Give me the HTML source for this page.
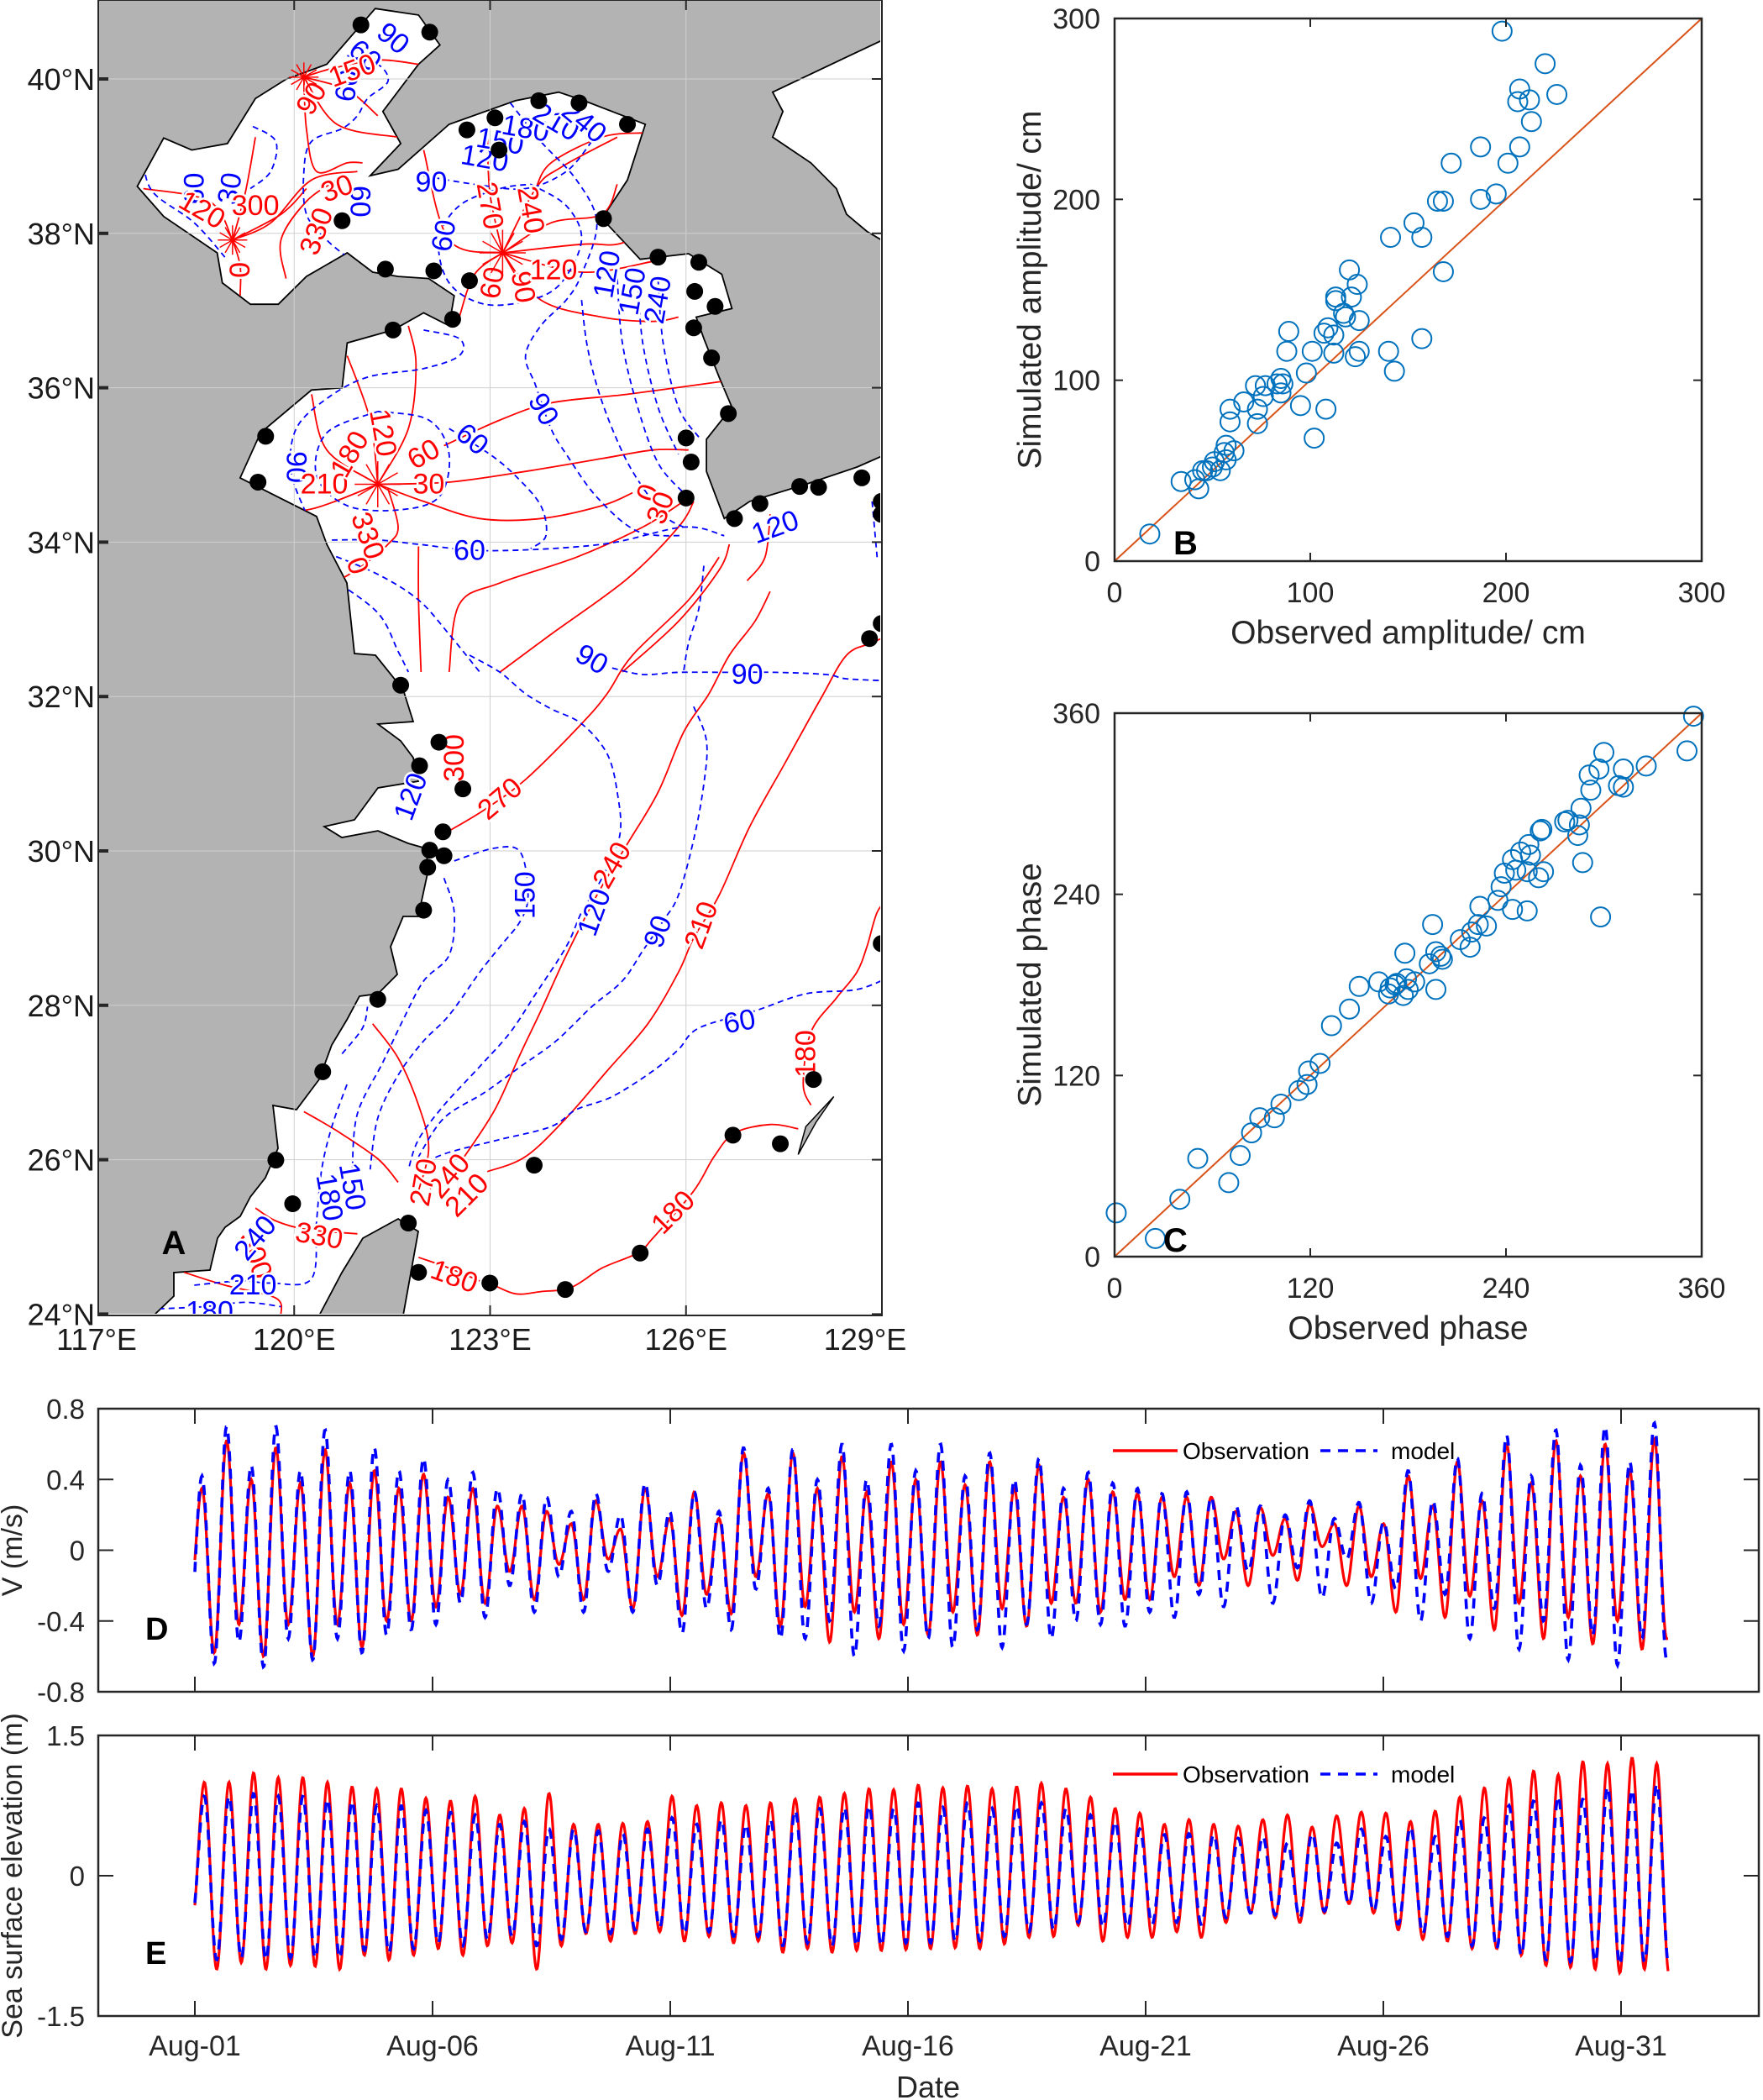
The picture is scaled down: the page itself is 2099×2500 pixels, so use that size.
<!DOCTYPE html>
<html><head><meta charset="utf-8"><title>Tidal chart recreation</title>
<style>
html,body{margin:0;padding:0;background:#fff;}
svg{display:block;font-family:"Liberation Sans",Arial,sans-serif;}
</style></head>
<body>
<svg id="fig" width="2099" height="2500" viewBox="0 0 2099 2500" xmlns="http://www.w3.org/2000/svg">
<defs>
<clipPath id="mapclip"><rect x="117" y="0" width="931" height="1564"/></clipPath>
<clipPath id="seaclip"><path id="seaclipPath"/></clipPath>
<clipPath id="dclip"><rect x="117" y="1677" width="1977" height="337"/></clipPath>
<clipPath id="eclip"><rect x="117" y="2067" width="1977" height="333"/></clipPath>
</defs>
<g id="mapG"></g>
<g id="bG"></g>
<g id="cG"></g>
<g id="dG"></g>
<g id="eG"></g>
</svg>
<script>
// ===== Panel B data (observed vs simulated amplitude, cm) =====
const ampObs = [18,34,41,43,45,47,50,51,54,56,57,57,59,59,61,66,72,73,73,76,77,83,85,85,86,88,89,95,98,101,102,108,107,109,112,113,113,112,117,118,120,121,124,125,123,125,140,141,143,153,157,157,165,168,168,172,187,187,195,198,201,207,207,206,212,213,220,226];
const ampSim = [15,44,45,40,50,50,52,55,50,60,64,56,77,84,61,88,97,84,76,91,97,98,101,93,98,116,127,86,104,116,68,84,126,129,125,146,144,115,137,135,161,146,153,133,113,116,116,179,105,187,179,123,199,199,160,220,229,200,203,293,220,229,261,254,255,243,275,258];
const ampTicks = [0,100,200,300];
// ===== Panel C data (phase, deg) =====
const phaObs = [1,25,40,51,70,77,84,89,98,102,113,118,119,126,133,144,150,162,168,169,172,173,177,179,180,184,178,195,197,193,197,200,201,212,218,219,223,228,224,235,237,244,253,239,244,246,249,254,255,253,260,263,261,262,276,278,284,285,287,286,292,291,297,300,298,309,312,312,326,351,355];
const phaSim = [29,12,38,65,49,67,82,92,92,101,110,114,123,128,153,164,179,182,174,178,180,181,173,184,177,182,201,220,177,194,202,199,197,210,205,215,220,219,232,236,245,230,229,254,263,256,268,273,266,255,251,255,282,283,288,289,279,286,261,297,309,319,323,334,225,312,323,311,325,335,358];
const phaTicks = [0,120,240,360];
// ===== Panel D data: current velocity extrema (m/s) =====
const dObsHigh = [0.35,0.62,0.4,0.58,0.38,0.57,0.38,0.45,0.35,0.43, 0.3,0.35,0.25,0.25,0.22,0.15,0.28,0.12,0.35,0.18, 0.33,0.18,0.55,0.32, 0.55,0.35,0.53,0.33,0.5,0.4,0.5,0.37,0.5,0.35,0.48,0.3,0.4,0.33,0.32,0.3,0.3,0.3,0.22,0.24,0.18,0.26,0.15,0.25,0.15,0.42,0.25,0.5,0.28,0.6,0.38,0.62,0.42,0.6,0.45,0.63];
const dObsLow = [-0.3, -0.58,-0.42,-0.6,-0.42,-0.6,-0.42,-0.55,-0.4,-0.4,-0.32,-0.25,-0.3,-0.12,-0.28,-0.08,-0.28,-0.05,-0.33,-0.15,-0.37,-0.25,-0.36,-0.15, -0.43,-0.32,-0.52,-0.35,-0.5,-0.42,-0.48,-0.35,-0.48,-0.33,-0.43,-0.3,-0.3,-0.35,-0.28,-0.28,-0.15,-0.2,-0.05,-0.2,-0.03,-0.17,0.02,-0.2,-0.15,-0.35,-0.16,-0.38,-0.26,-0.45,-0.3,-0.5,-0.38,-0.53,-0.4,-0.56, -0.5];
const dModHigh = [0.42,0.7,0.48,0.7,0.45,0.68,0.45,0.58,0.45,0.52, 0.4,0.44,0.35,0.32,0.3,0.22,0.32,0.2,0.38,0.22, 0.33,0.22,0.58,0.35, 0.57,0.4,0.6,0.4,0.6,0.45,0.6,0.42,0.55,0.4,0.52,0.35,0.44,0.38,0.35,0.32,0.33,0.3,0.25,0.25,0.2,0.28,0.18,0.27,0.16,0.45,0.28,0.52,0.32,0.65,0.42,0.68,0.48,0.7,0.5,0.72];
const dModLow = [-0.45,-0.64,-0.52,-0.66,-0.5,-0.62,-0.5,-0.58,-0.48,-0.45,-0.42,-0.3,-0.38,-0.2,-0.35,-0.15,-0.35,-0.12,-0.35,-0.2,-0.47,-0.33,-0.45,-0.22,-0.5,-0.5,-0.4,-0.6,-0.43,-0.57,-0.5,-0.55,-0.45,-0.55,-0.42,-0.5,-0.4,-0.42,-0.43,-0.35,-0.38,-0.25,-0.32,-0.12,-0.3,-0.1,-0.27,-0.05,-0.3,-0.22,-0.4,-0.25,-0.5,-0.33,-0.56,-0.4,-0.62,-0.48,-0.65,-0.5,-0.62];
const dTicks = [0.8,0.4,0,-0.4,-0.8];
const dTickLabels = ["0.8","0.4","0","-0.4","-0.8"];
// ===== Panel E data: sea surface elevation extrema (m) =====
const eObsHigh = [1.0,1.0,1.1,1.05,1.05,1.0,0.95,0.93,0.93,0.83,0.8,0.85,0.65,0.72,0.88,0.55,0.55,0.56,0.58,0.85,0.75,0.78,0.75, 0.78,0.82,0.84,0.88,0.93,0.92,0.97,0.94,0.96,0.93,0.95,0.99,0.93,0.84,0.72,0.67,0.55,0.6,0.55,0.53,0.6,0.65,0.52,0.64,0.68,0.67,0.58,0.69,0.84,0.94,1.04,1.12,1.08,1.22,1.2,1.26,1.2];
const eObsLow = [-0.5, -1.0,-0.93,-1.0,-0.96,-0.97,-1.0,-0.85,-0.9,-0.85,-0.78,-0.85,-0.75,-0.72,-1.0,-0.75,-0.62,-0.7,-0.62,-0.6,-0.7,-0.65,-0.72,-0.7, -0.82,-0.78,-0.82,-0.8,-0.8,-0.79,-0.78,-0.77,-0.78,-0.73,-0.66,-0.65,-0.53,-0.7,-0.66,-0.66,-0.6,-0.66,-0.5,-0.4,-0.45,-0.5,-0.4,-0.3,-0.4,-0.58,-0.68,-0.7,-0.78,-0.78,-0.85,-0.96,-0.98,-1.0,-1.04,-1.0,-1.05];
const eModHigh = [0.85,0.85,0.88,0.85,0.85,0.82,0.8,0.75,0.75,0.7,0.68,0.65,0.55,0.58,0.5,0.5,0.48,0.45,0.5,0.62,0.55,0.6,0.55, 0.6,0.7,0.72,0.73,0.75,0.72,0.78,0.73,0.78,0.72,0.75,0.78,0.72,0.65,0.58,0.5,0.44,0.45,0.44,0.4,0.42,0.35,0.45,0.35,0.5,0.42,0.52,0.42,0.6,0.62,0.75,0.8,0.85,0.82,0.95,0.92,0.98];
const eModLow = [-0.45,-0.9,-0.88,-0.9,-0.88,-0.88,-0.88,-0.8,-0.82,-0.78,-0.72,-0.75,-0.68,-0.65,-0.75,-0.68,-0.6,-0.62,-0.58,-0.55,-0.62,-0.6,-0.65,-0.65, -0.75,-0.72,-0.75,-0.75,-0.75,-0.72,-0.72,-0.7,-0.7,-0.65,-0.6,-0.58,-0.5,-0.55,-0.55,-0.52,-0.5,-0.52,-0.45,-0.4,-0.42,-0.45,-0.38,-0.3,-0.38,-0.52,-0.62,-0.65,-0.75,-0.78,-0.85,-0.9,-0.92,-0.92,-0.95,-0.92,-0.98];
const eTicks = [1.5,0,-1.5];
const eTickLabels = ["1.5","0","-1.5"];
const dateTicks = [0,5,10,15,20,25,30];
const dateLabels = ["Aug-01","Aug-06","Aug-11","Aug-16","Aug-21","Aug-26","Aug-31"];
const lonTicks = [117,120,123,126,129];
const latTicks = [24,26,28,30,32,34,36,38,40];

const NS='http://www.w3.org/2000/svg';
function mk(tag, attrs, parent, txt){
  const e=document.createElementNS(NS,tag);
  for(const k in attrs) e.setAttribute(k,attrs[k]);
  if(txt!==undefined) e.textContent=txt;
  parent.appendChild(e); return e;
}
function pathD(pts){return pts.map((p,i)=>(i?'L':'M')+p[0].toFixed(1)+' '+p[1].toFixed(1)).join(' ');}
function smoothD(pts){
  if(pts.length<3) return pathD(pts);
  let d='M'+pts[0][0].toFixed(1)+' '+pts[0][1].toFixed(1);
  for(let i=0;i<pts.length-1;i++){
    const p0=pts[Math.max(0,i-1)],p1=pts[i],p2=pts[i+1],p3=pts[Math.min(pts.length-1,i+2)];
    const c1=[p1[0]+(p2[0]-p0[0])/6,p1[1]+(p2[1]-p0[1])/6];
    const c2=[p2[0]-(p3[0]-p1[0])/6,p2[1]-(p3[1]-p1[1])/6];
    d+=' C'+c1[0].toFixed(1)+' '+c1[1].toFixed(1)+' '+c2[0].toFixed(1)+' '+c2[1].toFixed(1)+' '+p2[0].toFixed(1)+' '+p2[1].toFixed(1);
  }
  return d;
}

// ================= MAP (panel A) =================
const mapG=document.getElementById('mapG');
const z10=(x,y)=>[110+x*0.6067, y*0.5102];
const z11=(x,y)=>[110+x*0.6067, 780+y*0.5102];
const lonX=lon=>117+(lon-117)*77.75;
const latY=lat=>94+(40-lat)*91.9;

const seaMain = [
 z10(555,20),z10(640,35),z10(682,105),z10(640,150),z10(570,260),z10(605,335),z10(545,410),z10(600,395),z10(700,290),z10(830,235),z10(915,215),z10(965,235),z10(1085,290),z10(1050,420),z10(1000,510),z10(1075,605),z10(1170,592),z10(1235,640),z10(1255,720),z10(1185,740),z10(1200,790),z10(1230,880),z10(1255,950),z10(1205,1025),z10(1205,1100),z10(1240,1210),z10(1290,1170),z10(1400,1130),z10(1500,1090),[1050,543],[1050,1566],
 [480,1566],[498,1466],[474,1451],[432,1474],[407,1515],[380,1566],
 [183,1566],[207,1543],[207,1515],[250,1512],[259,1474],[268,1461],[286,1448],[298,1425],[316,1402],[331,1367],[325,1316],[353,1321],[380,1285],[395,1244],[413,1214],[428,1186],[450,1183],[473,1160],[465,1127],[480,1091],[498,1091],[510,1035],[507,1010],[486,1004],[450,989],[407,997],[386,984],[422,976],[450,938],[498,930],[492,902],[477,882],[450,862],[492,859],[480,821],[447,780],[422,778],[413,694],
 z10(460,1270),z10(440,1205),z10(290,1115),z10(330,1010),z10(430,910),z10(490,905),z10(500,800),z10(590,770),z10(650,730),z10(700,760),z10(710,690),z10(660,650),z10(600,645),z10(550,635),z10(500,590),z10(420,645),z10(365,710),z10(310,710),z10(255,660),z10(245,590),z10(140,505),z10(88,435),z10(140,322),z10(195,350),z10(265,335),z10(320,230),z10(380,185),z10(460,150)
];
const seaJapan = [[1050,48],z10(1335,215),z10(1355,260),z10(1335,320),z10(1410,380),z10(1460,440),z10(1480,500),z10(1520,540),[1050,286]];
const okinawa=[z11(1455,1030),z11(1400,1100),z11(1385,1165),z11(1420,1090)];

document.getElementById('seaclipPath').setAttribute('d',pathD(seaMain)+'Z '+pathD(seaJapan)+'Z');

const mapInner=mk('g',{'clip-path':'url(#mapclip)'},mapG);
const land=mk('rect',{x:117,y:0,width:933,height:1566,fill:'#b3b3b3'},mapInner);


const sea1=mk('path',{d:pathD(seaMain)+'Z',fill:'#fff',stroke:'#000','stroke-width':1.8},mapInner);


const sea2=mk('path',{d:pathD(seaJapan)+'Z',fill:'#fff',stroke:'#000','stroke-width':1.8},mapInner);



const grid=mk('g',{stroke:'#cfcfcf','stroke-width':1},mapInner);


lonTicks.forEach(l=>mk('line',{x1:lonX(l),y1:0,x2:lonX(l),y2:1566},grid));
latTicks.forEach(l=>mk('line',{x1:117,y1:latY(l),x2:1050,y2:latY(l)},grid));

const cont=mk('g',{'clip-path':'url(#seaclip)',fill:'none'},mapInner);


const redLines=[
 [z11(700,410),z11(770,360),z11(850,290),z11(960,160),z11(1010,90),z11(1060,0),z10(1170,1400),z10(1230,1300)],
 [z11(730,1170),z11(790,1060),z11(840,930),z11(880,830),z11(930,700),z11(990,560),z11(1050,440),z11(1110,320),z11(1160,180),z11(1210,90),z11(1250,0),z10(1300,1450),z10(1330,1380)],
 [z11(775,1205),z11(850,1170),z11(930,1080),z11(1010,970),z11(1090,860),z11(1150,740),z11(1180,660),z11(1230,560),z11(1290,400),z11(1360,250),z11(1430,100),z11(1480,0),z10(1530,1500),z10(1566,1480)],
 [z11(1410,1050),z11(1395,1000),z11(1410,880),z11(1460,800),z11(1500,740),z11(1520,680),z11(1540,600),z11(1566,560)],
 [z11(780,1465),z11(830,1490),z11(880,1485),z11(940,1475),z11(1000,1430),z11(1070,1395),z11(1100,1360),z11(1180,1250),z11(1220,1170),z11(1260,1115),z11(1330,1095),z11(1385,1105)],
 [z11(550,860),z11(600,940),z11(640,1050),z11(660,1150),z11(640,1250)],
 [z11(415,1065),z11(480,1110),z11(560,1175),z11(600,1230)],
 [z11(640,1405),z11(700,1430),z11(760,1460)],
 [z11(180,1440),z11(260,1470),z11(360,1500),z11(370,1540)],
 [z11(320,1290),z11(360,1320),z11(420,1340),z11(520,1350)],
 [z10(560,1130),z10(650,1170),z10(760,1210),z10(880,1210),z10(1000,1180),z10(1060,1150)],
 [z10(560,1130),z10(700,1125),z10(850,1100),z10(1000,1070),z10(1100,1050),z10(1170,1050)],
 [z10(690,1040),z10(800,980),z10(900,940),z10(1050,920),z10(1235,890)],
 [z10(560,1130),z10(620,1000),z10(635,850),z10(620,760)],
 [z10(560,1130),z10(545,980),z10(500,830)],
 [z10(560,1130),z10(460,1050),z10(430,920)],
 [z10(560,1130),z10(420,1190),z10(360,1160)],
 [z10(580,1140),z10(600,1230),z10(580,1270),z10(530,1320),z10(490,1350)],
 [z10(640,1275),z10(640,1400),z10(645,1568)],
 [z10(700,1568),z10(720,1410),z10(800,1360),z10(950,1300),z10(1080,1230),z10(1160,1170)],
 [z10(800,1568),z10(900,1480),z10(1050,1350),z10(1150,1230),z10(1180,1170)],
 [z10(1040,1568),z10(1150,1450),z10(1230,1330),z10(1250,1270)],
 [z10(1285,1355),z10(1320,1300),z10(1330,1200)],
 [z10(805,590),z10(870,440),z10(920,390),z10(1030,320)],
 [z10(805,590),z10(900,520),z10(1000,500),z10(1030,430)],
 [z10(805,590),z10(960,570),z10(1030,570),z10(1090,540)],
 [z10(805,590),z10(960,635),z10(1100,610)],
 [z10(805,590),z10(880,700),z10(1000,740),z10(1100,750),z10(1150,740)],
 [z10(805,590),z10(780,450),z10(775,300)],
 [z10(805,590),z10(700,560),z10(650,350)],
 [z10(805,590),z10(750,640),z10(720,740)],
 [z10(415,180),z10(470,160),z10(560,140),z10(640,150)],
 [z10(415,180),z10(500,210),z10(560,270)],
 [z10(415,180),z10(480,290),z10(600,320)],
 [z10(415,180),z10(420,300),z10(440,400),z10(500,380),z10(530,380)],
 [z10(275,560),z10(300,450),z10(320,320)],
 [z10(275,560),z10(230,470),z10(100,440)],
 [z10(275,560),z10(350,520),z10(430,420),z10(520,400)],
 [z10(275,560),z10(290,620),z10(290,690)],
 [z10(275,560),z10(370,500),z10(420,440)],
 [z10(380,650),z10(370,560),z10(420,470),z10(480,420)],
 [z10(870,440),z10(900,380),z10(1000,320),z10(1080,310)]
];
const blueLines=[
 [z11(1020,30),z11(1080,45),z11(1150,40),z11(1250,40),z11(1340,40),z11(1440,45),z11(1480,55),z11(1566,60)],
 [z11(740,0),z11(800,40),z11(850,90),z11(900,125),z11(960,160),z11(1010,230),z11(1030,320),z11(1035,420),z11(1000,520),z11(960,600),z11(930,680),z11(870,790),z11(820,880),z11(760,960),z11(690,1050),z11(640,1130),z11(620,1200)],
 [z11(710,480),z11(790,450),z11(840,460),z11(855,560),z11(840,620),z11(800,680),z11(760,740),z11(700,840),z11(650,900),z11(600,980),z11(560,1080),z11(545,1200)],
 [z11(1180,120),z11(1205,200),z11(1200,300),z11(1180,430),z11(1150,560),z11(1120,620),z11(1080,690),z11(1040,760),z11(980,820),z11(910,900),z11(840,960),z11(770,1020),z11(690,1080),z11(640,1170)],
 [z11(1566,750),z11(1500,780),z11(1400,790),z11(1300,830),z11(1190,870),z11(1150,920),z11(1100,970),z11(1020,1030),z11(950,1060),z11(900,1100),z11(800,1130),z11(700,1160),z11(650,1185)],
 [z11(690,520),z11(710,600),z11(700,700),z11(650,760),z11(610,850),z11(570,950),z11(520,1070),z11(510,1200)],
 [z11(130,1525),z11(220,1520),z11(300,1510),z11(370,1520)],
 [z11(200,1470),z11(290,1460),z11(350,1465),z11(430,1455),z11(440,1320),z11(450,1200),z11(470,1100),z11(500,1000)],
 [z11(490,930),z11(530,870),z11(540,820)],
 [z10(650,410),z10(750,430),z10(850,440),z10(930,400),z10(980,330)],
 [z10(820,240),z10(880,330),z10(950,420),z10(990,520),z10(960,640),z10(930,700),z10(880,760),z10(850,830),z10(870,900),z10(900,1000),z10(930,1060),z10(990,1160),z10(1070,1240),z10(1160,1250)],
 [z10(960,700),z10(970,800),z10(990,900),z10(1020,1000),z10(1060,1100),z10(1120,1200),z10(1160,1230)],
 [z10(1030,650),z10(1040,800),z10(1070,950),z10(1110,1080),z10(1160,1150)],
 [z10(1070,650),z10(1080,800),z10(1110,950),z10(1150,1060)],
 [z10(1110,650),z10(1120,800),z10(1150,950),z10(1190,1020)],
 [z10(860,430),z10(930,480),z10(960,560),z10(920,660),z10(860,700),z10(770,710),z10(700,660),z10(680,560),z10(720,480),z10(800,440),z10(860,430)],
 [z10(560,960),z10(660,980),z10(700,1060),z10(680,1160),z10(600,1190),z10(500,1180),z10(440,1110),z10(460,1010),z10(560,960)],
 [z10(700,1000),z10(780,1060),z10(830,1110),z10(880,1180),z10(890,1250),z10(860,1280)],
 [z10(650,770),z10(720,790),z10(720,830),z10(650,860),z10(540,880),z10(460,930),z10(400,1000),z10(390,1100),z10(420,1200)],
 [z10(470,1260),z10(560,1260),z10(640,1270),z10(780,1285),z10(1000,1270),z10(1160,1230),z10(1240,1250)],
 [z10(460,1290),z10(560,1340),z10(640,1400),z10(700,1480),z10(760,1568)],
 [z10(470,1350),z10(560,1430),z10(600,1520),z10(620,1568)],
 [z10(500,130),z10(560,150),z10(580,190),z10(540,230),z10(520,270),z10(490,300),z10(430,330),z10(415,400),z10(420,500),z10(460,560),z10(500,600)],
 [z10(100,385),z10(120,450),z10(200,520),z10(260,600)],
 [z10(315,295),z10(360,330),z10(350,400),z10(310,440)],
 [z10(1200,1320),z10(1190,1420),z10(1170,1500),z10(1160,1568)],
 [z10(1530,1170),z10(1540,1300)]
];
redLines.forEach(l=>mk('path',{d:smoothD(l),stroke:'#ff0000','stroke-width':1.8},cont));
blueLines.forEach(l=>mk('path',{d:smoothD(l),stroke:'#0000ff','stroke-width':1.8,'stroke-dasharray':'7 5'},cont));

const lblG=mk('g',{'font-size':34},mapInner);


const labels=[
 ['r',z11(800,335),'270',-40],['r',z11(1020,490),'240',-60],['r',z11(1195,630),'210',-70],['r',z11(1400,930),'180',-90],
 ['r',z11(1140,1300),'180',-45],['r',z11(710,1450),'180',20],['r',z11(445,1355),'330',10],['r',z11(710,240),'300',-90],
 ['r',z11(735,1260),'210',-45],['r',z11(700,1215),'240',-50],['r',z11(320,1400),'300',70],['r',z11(650,1230),'270',-80],
 ['b',z11(1285,45),'90',0],['b',z11(850,560),'150',-90],['b',z11(985,600),'120',-70],['b',z11(1110,645),'90',-70],
 ['b',z11(1270,855),'60',-10],['b',z11(315,1470),'210',0],['b',z11(230,1532),'180',0],['b',z11(465,1265),'180',80],
 ['b',z11(510,1240),'150',80],['b',z11(625,330),'120',-70],['b',z11(320,1360),'240',-50],['b',z11(980,10),'90',30],
 ['b',z10(665,425),'90',0],['b',z10(770,370),'120',10],['b',z10(800,330),'150',10],['b',z10(850,300),'180',10],['b',z10(910,285),'210',30],
 ['b',z10(965,285),'240',40],['b',z10(745,1025),'60',40],['b',z10(885,955),'90',60],['b',z10(740,1285),'60',0],
 ['b',z10(1340,1230),'120',-20],['b',z10(590,90),'90',40],['b',z10(535,130),'60',40],['b',z10(200,440),'60',-90],
 ['b',z10(400,1090),'90',90],['b',z10(525,470),'60',90],['b',z10(690,550),'60',-80],['b',z10(500,200),'60',-80],['b',z10(270,440),'30',-80],
 ['b',z10(1010,640),'120',-80],['b',z10(1060,680),'150',-80],['b',z10(1110,700),'240',-80],
 ['r',z10(480,440),'30',-20],['r',z10(440,540),'330',-70],['r',z10(290,630),'0',-90],['r',z10(215,490),'120',30],
 ['r',z10(510,165),'150',-20],['r',z10(660,1130),'30',0],['r',z10(650,1060),'60',-30],['r',z10(570,1010),'120',80],
 ['r',z10(455,1130),'210',0],['r',z10(1090,1150),'0',-70],['r',z10(1115,1185),'30',-70],['r',z10(780,480),'270',80],
 ['r',z10(860,490),'240',80],['r',z10(845,670),'90',80],['r',z10(785,660),'60',-80],['r',z10(905,630),'120',0],
 ['r',z10(540,1250),'330',70],['r',z10(520,1320),'0',70],['r',z10(430,230),'90',-60],['r',z10(320,480),'300',0],['r',z10(505,1060),'180',-60]
];
labels.forEach(l=>{
  const [c,p,t,r]=l;
  const e=mk('text',{x:p[0],y:p[1],fill:c==='r'?'#ff0000':'#0000ff','text-anchor':'middle','dominant-baseline':'central',transform:'rotate('+r+' '+p[0].toFixed(1)+' '+p[1].toFixed(1)+')',stroke:'#fff','stroke-width':5,'paint-order':'stroke'},lblG,t);
  
  
});
[[z10(805,590),55],[z10(560,1130),55],[z10(415,180),35],[z10(275,560),35]].forEach(s=>{
  const g=mk('g',{stroke:'#ff0000','stroke-width':1.5},mapInner);
  
  
  for(let a=0;a<12;a++){const th=a*Math.PI/6;mk('line',{x1:s[0][0],y1:s[0][1],x2:s[0][0]+Math.cos(th)*s[1]*0.5,y2:s[0][1]+Math.sin(th)*s[1]*0.5},g);}
});
const ok=mk('path',{d:pathD(okinawa)+'Z',fill:'#b3b3b3',stroke:'#000','stroke-width':1.5},mapInner);



const stations10=[[527,58],[662,75],[876,235],[955,240],[790,275],[735,303],[1050,290],[798,350],[490,515],[1003,510],[575,628],[670,632],[740,655],[707,745],[590,770],[1110,600],[1190,612],[1182,680],[1222,715],[1180,765],[1215,835],[1248,965],[1165,1022],[1175,1078],[1165,1162],[340,1018],[325,1125],[1260,1210],[1310,1175],[1388,1135],[1425,1137],[1510,1115],[1548,1170],[1548,1200],[1548,1455],[1525,1490]];
const stations11=[[605,70],[680,203],[642,258],[727,312],[688,412],[662,455],[690,468],[658,495],[650,595],[560,803],[452,972],[360,1178],[393,1280],[620,1325],[640,1440],[780,1465],[928,1480],[867,1190],[1075,1395],[1257,1120],[1350,1140],[1415,990],[1548,673]];
const stG=mk('g',{fill:'#000'},mapInner);


stations10.map(p=>z10(p[0],p[1])).concat(stations11.map(p=>z11(p[0],p[1]))).forEach(p=>{
  const c=mk('circle',{cx:p[0],cy:p[1],r:10},stG);
  
  
});
const mf=mk('rect',{x:117,y:0,width:933,height:1566,fill:'none',stroke:'#262626','stroke-width':2},mapG);


lonTicks.forEach(l=>{
  const x=lonX(l);
  mk('line',{x1:x,y1:0,x2:x,y2:12,stroke:'#262626','stroke-width':2},mapG);
  mk('line',{x1:x,y1:1566,x2:x,y2:1554,stroke:'#262626','stroke-width':2},mapG);
  const t=mk('text',{x:l===117?115:(l===129?1030:x),y:1607,'font-size':36,'text-anchor':'middle',fill:'#1a1a1a'},mapG,l+'°E');
  
  
});
latTicks.forEach(l=>{
  const y=latY(l);
  mk('line',{x1:117,y1:y,x2:129,y2:y,stroke:'#262626','stroke-width':4},mapG);
  mk('line',{x1:1050,y1:y,x2:1038,y2:y,stroke:'#262626','stroke-width':2},mapG);
  const t=mk('text',{x:113,y:y+13,'font-size':36,'text-anchor':'end',fill:'#1a1a1a'},mapG,l+'°N');
  
  
});
const la=mk('text',{x:207,y:1493,'font-size':40,'font-weight':'bold','text-anchor':'middle',fill:'#000'},mapG,'A');



// ================= SCATTER PANELS =================
function scatter(g, X0,Y0,W,H, vmax, xs, ys, ticks, xTitle, yTitle, letter, letterPos){
  const sx=v=>X0+v/vmax*W, sy=v=>Y0+H-v/vmax*H;
  mk('rect',{x:X0,y:Y0,width:W,height:H,fill:'#fff'},g);
  const diag=mk('line',{x1:sx(0),y1:sy(0),x2:sx(vmax),y2:sy(vmax),stroke:'#d95319','stroke-width':2},g);
  
  
  const n=Math.min(xs.length,ys.length);
  for(let i=0;i<n;i++){
    const c=mk('circle',{cx:sx(xs[i]),cy:sy(ys[i]),r:11.5,fill:'none',stroke:'#0072bd','stroke-width':2},g);
    
    
  }
  const fr=mk('rect',{x:X0,y:Y0,width:W,height:H,fill:'none',stroke:'#262626','stroke-width':2.5},g);
  
  
  ticks.forEach(t=>{
    const x=sx(t),y=sy(t);
    mk('line',{x1:x,y1:Y0+H,x2:x,y2:Y0+H-10,stroke:'#262626','stroke-width':2},g);
    mk('line',{x1:x,y1:Y0,x2:x,y2:Y0+10,stroke:'#262626','stroke-width':2},g);
    mk('line',{x1:X0,y1:y,x2:X0+10,y2:y,stroke:'#262626','stroke-width':2},g);
    mk('line',{x1:X0+W,y1:y,x2:X0+W-10,y2:y,stroke:'#262626','stroke-width':2},g);
    const xl=mk('text',{x:x,y:Y0+H+49,'font-size':34,'text-anchor':'middle',fill:'#262626'},g,String(t));
    
    
    const yl=mk('text',{x:X0-17,y:y+12,'font-size':34,'text-anchor':'end',fill:'#262626'},g,String(t));
    
    
  });
  const xt=mk('text',{x:X0+W/2,y:Y0+H+98,'font-size':39,'text-anchor':'middle',fill:'#262626'},g,xTitle);
  
  
  const yx=X0-88, yy=Y0+H/2;
  const yt=mk('text',{x:yx,y:yy,'font-size':39,'text-anchor':'middle',fill:'#262626',transform:'rotate(-90 '+yx+' '+yy+')'},g,yTitle);
  
  
  const lt=mk('text',{x:letterPos[0],y:letterPos[1],'font-size':40,'font-weight':'bold',fill:'#000'},g,letter);
  
  
}
scatter(document.getElementById('bG'),1327,22,699,646,300,ampObs,ampSim,ampTicks,'Observed amplitude/ cm','Simulated amplitude/ cm','B',[1397,660]);
scatter(document.getElementById('cG'),1327,849,699,647,360,phaObs,phaSim,phaTicks,'Observed phase','Simulated phase','C',[1385,1490]);

// ================= TIME SERIES =================
const P=0.5178;
function tideCurve(lows, highs, xs, ys, T0){
  const ext=[];
  const n=Math.min(highs.length, lows.length-1);
  for(let j=0;j<n;j++){ ext.push([T0+(j-0.5)*P, lows[j]]); ext.push([T0+j*P, highs[j]]); }
  ext.push([T0+(n-0.5)*P, lows[n]]);
  const pts=[]; let k=0;
  for(let t=0;t<=31.0001;t+=0.015){
    while(k<ext.length-2 && t>ext[k+1][0]) k++;
    const a=ext[k], b=ext[k+1];
    let f=(t-a[0])/(b[0]-a[0]); f=Math.max(0,Math.min(1,f));
    const v=a[1]+(b[1]-a[1])*(1-Math.cos(Math.PI*f))/2;
    pts.push([xs(t),ys(v)]);
  }
  return pathD(pts);
}
function tsPanel(g, Y0, H, vmin, vmax, ticks, tickLabels, obsLow, obsHigh, modLow, modHigh, yTitle, letter, clip, legendY, T0){
  const X0=117, W=1977;
  const xs=t=>232+t*56.6, ys=v=>Y0+(vmax-v)/(vmax-vmin)*H;
  const obs=mk('path',{d:tideCurve(obsLow,obsHigh,xs,ys,T0),fill:'none',stroke:'#ff0000','stroke-width':3.2,'clip-path':'url(#'+clip+')'},g);
  
  
  const mod=mk('path',{d:tideCurve(modLow,modHigh,xs,ys,T0),fill:'none',stroke:'#0000ff','stroke-width':3.6,'stroke-dasharray':'12 9','clip-path':'url(#'+clip+')'},g);
  
  
  const fr=mk('rect',{x:X0,y:Y0,width:W,height:H,fill:'none',stroke:'#262626','stroke-width':2.5},g);
  
  
  ticks.forEach((t,i)=>{
    const y=ys(t);
    mk('line',{x1:X0,y1:y,x2:X0+18,y2:y,stroke:'#262626','stroke-width':2},g);
    mk('line',{x1:X0+W,y1:y,x2:X0+W-18,y2:y,stroke:'#262626','stroke-width':2},g);
    const yl=mk('text',{x:X0-16,y:y+12,'font-size':33,'text-anchor':'end',fill:'#262626'},g,tickLabels[i]);
    
    
  });
  dateTicks.forEach(d=>{
    const x=xs(d);
    mk('line',{x1:x,y1:Y0,x2:x,y2:Y0+18,stroke:'#262626','stroke-width':2},g);
    mk('line',{x1:x,y1:Y0+H,x2:x,y2:Y0+H-18,stroke:'#262626','stroke-width':2},g);
  });
  const yx=26, yy=Y0+H/2;
  const yt=mk('text',{x:yx,y:yy,'font-size':34,'text-anchor':'middle',fill:'#262626',transform:'rotate(-90 '+yx+' '+yy+')'},g,yTitle);
  
  
  const lt=mk('text',{x:173,y:Y0+H-62,'font-size':38,'font-weight':'bold',fill:'#000'},g,letter);
  
  
  const lg=mk('g',{},g);
  
  
  mk('line',{x1:1325,y1:legendY,x2:1402,y2:legendY,stroke:'#ff0000','stroke-width':3.5},lg);
  const t1=mk('text',{x:1408,y:legendY+10,'font-size':28,fill:'#000'},lg,'Observation');
  
  
  mk('line',{x1:1572,y1:legendY,x2:1640,y2:legendY,stroke:'#0000ff','stroke-width':3.5,'stroke-dasharray':'12 9'},lg);
  const t2=mk('text',{x:1656,y:legendY+10,'font-size':28,fill:'#000'},lg,'model');
  
  
  return xs;
}
tsPanel(document.getElementById('dG'),1677,337,-0.8,0.8,dTicks,dTickLabels,dObsLow,dObsHigh,dModLow,dModHigh,'V (m/s)','D','dclip',1727,0.15);
const xsE=tsPanel(document.getElementById('eG'),2066,334,-1.5,1.5,eTicks,eTickLabels,eObsLow,eObsHigh,eModLow,eModHigh,'Sea surface elevation (m)','E','eclip',2112,0.2);
const eG=document.getElementById('eG');
dateTicks.forEach((d,i)=>{
  const t=mk('text',{x:xsE(d),y:2447,'font-size':34,'text-anchor':'middle',fill:'#262626'},eG,dateLabels[i]);
  
  
});
const dt=mk('text',{x:1105,y:2497,'font-size':36,'text-anchor':'middle',fill:'#262626'},eG,'Date');


</script>
</body></html>
